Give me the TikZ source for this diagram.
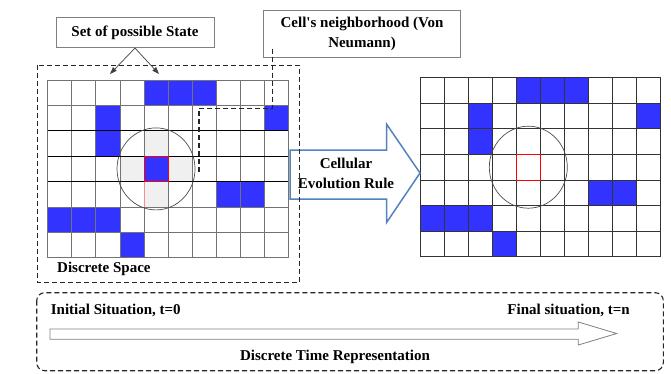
\documentclass[tikz,border=0pt]{standalone}
\usepackage{fontspec}
\setmainfont{Liberation Serif}
\usepackage{xcolor}
\usepackage{tikz}
\usetikzlibrary{arrows.meta,positioning,calc}

\definecolor{cellblue}{RGB}{51,51,255}
\definecolor{rulearrow}{RGB}{84,130,190}
\definecolor{nbrgrey}{RGB}{240,240,240}

\begin{document}
\begin{tikzpicture}[
  x=1pt, y=-1pt,
  font=\fontsize{15}{20}\selectfont\bfseries,
  every node/.style={inner sep=0pt},
  callout/.style={draw=black!50, fill=white, line width=0.8pt, align=center},
  lbl/.style={align=center},
  ptr/.style={-{Triangle[length=7pt,width=5pt]}, black!75, line width=0.7pt},
  lead/.style={black!85, line width=1.1pt, dash pattern=on 5pt off 3pt},
  zone/.style={black!85, line width=1.1pt, dash pattern=on 5pt off 3pt},
  gridln/.style={black!55, line width=0.8pt},
  gridbold/.style={black, line width=0.9pt},
  hollow/.style={draw=black!50, fill=white, line width=0.8pt},
]
\useasboundingbox (0,0) rectangle (671,373);

% =============================================================== initial grid
\begin{scope}[shift={(47.7,80)}, x=24.07pt, y=-25.4pt]
  \begin{scope}
    \clip (4.5,3.5) ellipse [x radius=39pt, y radius=41pt];
    \fill[nbrgrey] (4,2) rectangle (5,5) (3,3) rectangle (6,4);
  \end{scope}
  \foreach \c/\r in {4/0,5/0,6/0,2/1,9/1,2/2,4/3,7/4,8/4,0/5,1/5,2/5,3/6}
    \fill[cellblue] (\c,\r) rectangle ++(1,1);
  \foreach \c in {0,...,10}
    \draw[gridln] (\c,0) -- (\c,7);
  \foreach \r in {0,1,5,6,7}
    \draw[gridln] (0,\r) -- (10,\r);
  \foreach \r in {2,3,4}
    \draw[gridbold] (0,\r) -- (10,\r);
  \draw[red!45, line width=0.9pt] (4,4) -- (4,5);
  \draw[red, line width=0.9pt] (4,3) rectangle (5,4);
  \draw[black!70, line width=0.7pt] (4.5,3.5) ellipse [x radius=39pt, y radius=41pt];
\end{scope}

% =============================================================== evolved grid
\begin{scope}[shift={(420,77.7)}, x=24.07pt, y=-25.57pt]
  \foreach \c/\r in {4/0,5/0,6/0,2/1,9/1,2/2,7/4,8/4,0/5,1/5,2/5,3/6}
    \fill[cellblue] (\c,\r) rectangle ++(1,1);
  \foreach \c in {0,...,10}
    \draw[black!80, line width=0.8pt] (\c,0) -- (\c,7);
  \foreach \r in {0,...,7}
    \draw[black!80, line width=0.8pt] (0,\r) -- (10,\r);
  \draw[red, line width=0.9pt] (4,3) rectangle (5,4);
  \draw[black!70, line width=0.7pt] (4.5,3.5) ellipse [x radius=39pt, y radius=41pt];
\end{scope}

% --- evolution rule ---
\draw[rulearrow, line width=1.5pt, fill=white]
  (290,150) -- (386.7,150) -- (386.7,124.3) -- (420,173)
  -- (386.7,222.3) -- (386.7,199) -- (290,199) -- cycle;
\node[lbl] (rule) at (346,173) {Cellular\\Evolution Rule};

% --- discrete space ---
\draw[zone] (37.3,65.3) rectangle (299.3,282.7);
\node[anchor=west] (space) at (57,269) {Discrete Space};

\node[callout, minimum width=158pt, minimum height=30pt] (states) at (135,32.7)
  {Set of possible State};
\coordinate (stateA) at (110,74);
\coordinate (stateB) at (159,74);
\draw[ptr] (states.south) -- (stateA);
\draw[ptr] (states.south) -- (stateB);

\node[callout, minimum width=197.4pt, minimum height=47.7pt] (nbr) at (362,33.85)
  {Cell\textquotesingle s neighborhood (Von\\Neumann)};
\coordinate (nbrend) at (199,171.7);
\draw[lead] ([shift={(9.4,-9.4)}]nbr.south west) -- ++(0,60) -| (nbrend);

% =============================================================== time axis
\draw[zone, rounded corners=8pt] (36.7,292.7) rectangle (663.3,370.7);
\draw[hollow] (50,329) -- (578.3,329) -- (578.3,322) -- (616.7,333.5)
  -- (578.3,345) -- (578.3,339.3) -- (50,339.3) -- cycle;
\node[anchor=west] (tstart) at (50.7,310.7) {Initial Situation, t=0};
\node[anchor=east] (tend) at (630,310.5) {Final situation, t=n};
\node (time) at (335,357.3) {Discrete Time Representation};

\end{tikzpicture}
\end{document}
